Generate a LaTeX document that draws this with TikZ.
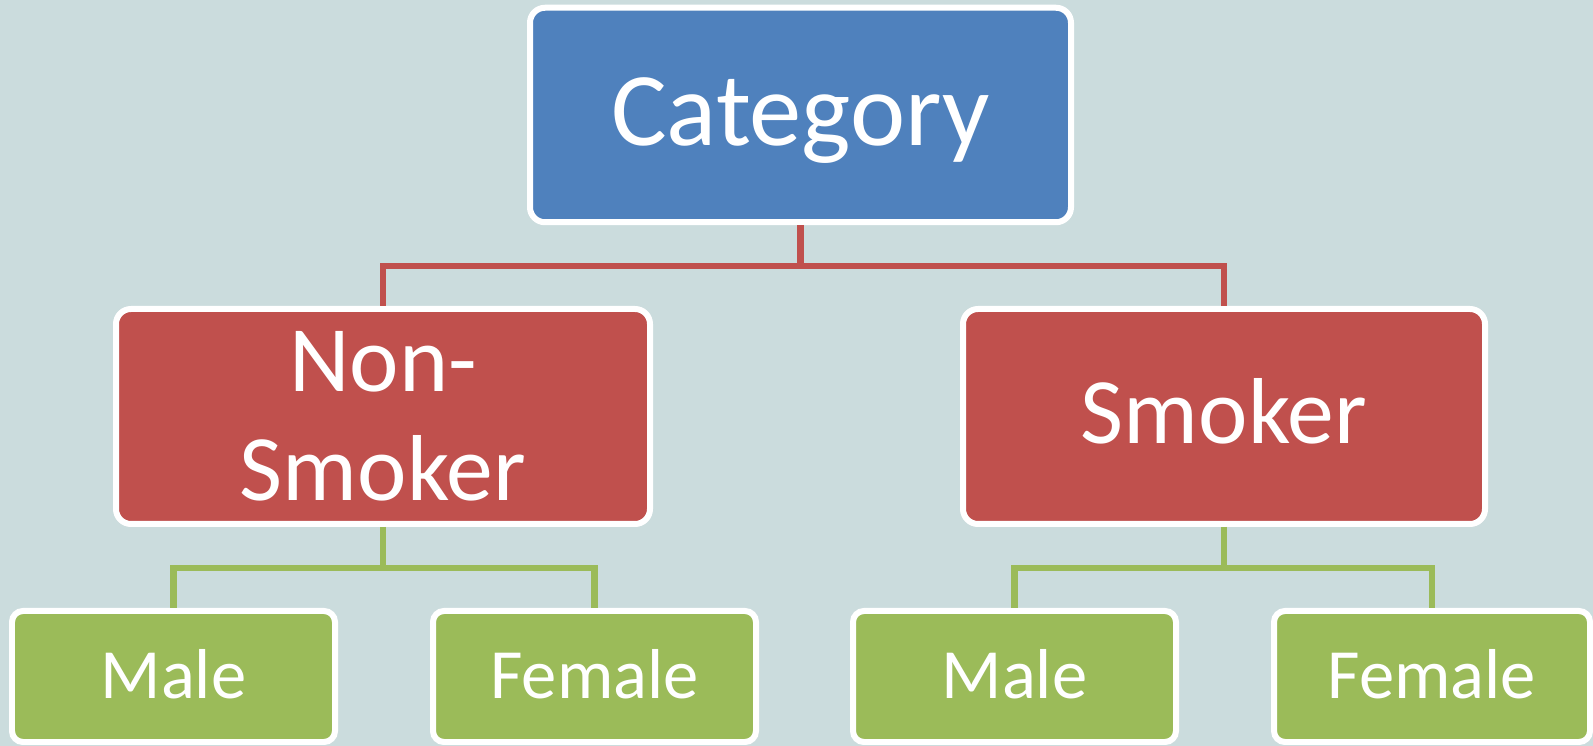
\documentclass[tikz,border=0pt]{standalone}
\usepackage{fontspec}
\setmainfont{Carlito}
\definecolor{bgcol}{RGB}{203,220,221}
\definecolor{catblue}{RGB}{79,129,189}
\definecolor{smkred}{RGB}{192,80,77}
\definecolor{sexgreen}{RGB}{155,187,89}
\begin{document}
\begin{tikzpicture}[
	box/.style={rectangle, draw=white, line width=0.12cm, text=white, inner sep=0pt},
	catbox/.style={box, fill=catblue, rounded corners=0.3cm, minimum width=10.82cm, minimum height=4.29cm,
		font=\fontsize{59.5}{70}\selectfont, text height=1.36cm, text depth=0.12cm},
	midbox/.style={box, fill=smkred, rounded corners=0.3cm, minimum height=4.30cm, align=center,
		font=\fontsize{53.3}{61.8}\selectfont},
	leafbox/.style={box, fill=sexgreen, rounded corners=0.22cm, minimum width=6.46cm, minimum height=2.62cm,
		font=\fontsize{40.2}{48}\selectfont, text height=0.94cm, text depth=0.06cm},
	redline/.style={draw=smkred, line width=0.13cm},
	greenline/.style={draw=sexgreen, line width=0.13cm}
	]
	\useasboundingbox (0,0) rectangle (31.86,14.92);
	\fill[bgcol] (0,0) rectangle (31.86,14.92);
	\path
	%	tam cac hop
	(16.01,12.62) coordinate (C)
	(7.66,6.59) coordinate (N)
	(24.48,6.59) coordinate (S)
	(3.47,1.39) coordinate (NM)
	(11.89,1.39) coordinate (NF)
	(20.29,1.39) coordinate (SM)
	(28.64,1.39) coordinate (SF)
	;
	\node[catbox] (cat) at (C) {Category};
	\node[midbox, minimum width=10.68cm] (non) at (N) {Non-\\Smoker};
	\node[midbox, minimum width=10.44cm, text height=1.16cm, text depth=0.06cm] (smk) at (S) {Smoker};
	\node[leafbox] (nmale) at (NM) {Male};
	\node[leafbox] (nfemale) at (NF) {Female};
	\node[leafbox] (smale) at (SM) {Male};
	\node[leafbox, minimum width=6.32cm] (sfemale) at (SF) {Female};
	\draw[redline]
	(cat.south)--++(0,-0.815) coordinate (R) -|(non.north)
	(R)-|(smk.north);
	\draw[greenline]
	(non.south)--++(0,-0.82) coordinate (G1) -|(nmale.north)
	(G1)-|(nfemale.north);
	\draw[greenline]
	(smk.south)--++(0,-0.82) coordinate (G2) -|(smale.north)
	(G2)-|(sfemale.north);
\end{tikzpicture}
\end{document}
